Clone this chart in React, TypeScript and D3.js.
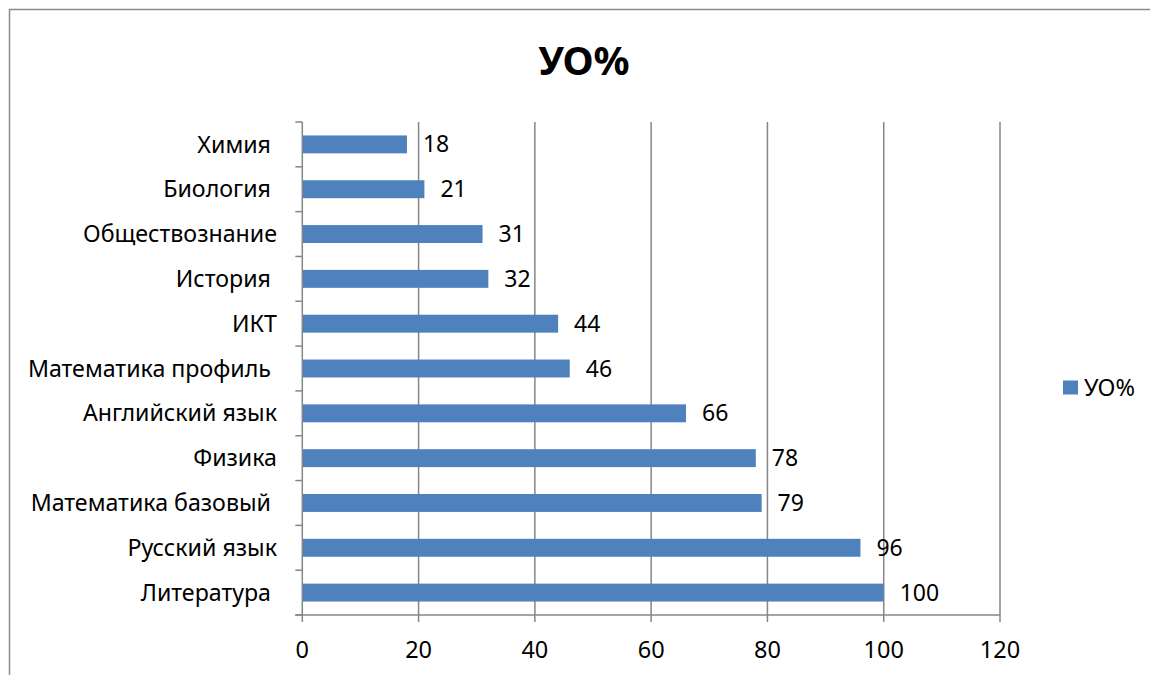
import React from 'react';
import * as d3 from 'd3';

// subjects from top to bottom, as in the picture
const subjects = [
  'Химия ', 'Биология ', 'Обществознание', 'История ', 'ИКТ',
  'Математика профиль ', 'Английский язык', 'Физика', 'Математика базовый ',
  'Русский язык', 'Литература ',
];
const values = [18, 21, 31, 32, 44, 46, 66, 78, 79, 96, 100];
const xTickValues = [0, 20, 40, 60, 80, 100, 120];
const title = 'УО%';
const seriesName = 'УО%';

const width = 1150;
const height = 675;
const plotLeft = 302.3;
const plotRight = 1000;
const plotTop = 122;
const plotBottom = 615;
const barColor = '#4F81BD';
const gridColor = '#868686';
const font = '"Noto Sans", sans-serif';

const App: React.FC = () => {
  const xScale = d3.scaleLinear().domain([0, 120]).range([plotLeft, plotRight]);
  const yScale = d3.scaleBand<string>().domain(subjects)
    .range([plotTop, plotBottom])
    .paddingInner(0.6)
    .paddingOuter(0.3);
  const slotEdges = d3.range(subjects.length + 1).map(i => plotTop + i * (plotBottom - plotTop) / subjects.length);

  return (
    <svg width={width} height={height} style={{position: 'absolute', left: 0, top: 0, background: 'white'}} fontFamily={font}>
      <rect x={9.5} y={9.5} width={width + 20} height={height + 20} fill="white" stroke="#8a8a8a" strokeWidth={1.5}/>
      <text x={584} y={75} textAnchor="middle" fontSize={40} fontWeight="bold" fill="black">{title}</text>

      {/* vertical gridlines */}
      {xTickValues.filter(v => v > 0).map(v => (
        <line key={v} x1={xScale(v)} x2={xScale(v)} y1={plotTop} y2={plotBottom} stroke={gridColor} strokeWidth={1.5}/>
      ))}

      {/* bars */}
      {subjects.map((s, i) => (
        <rect key={s} x={xScale(0)} y={yScale(s)!} width={xScale(values[i]) - xScale(0)} height={yScale.bandwidth()} fill={barColor}/>
      ))}

      {/* value labels */}
      {subjects.map((s, i) => (
        <text key={s} x={xScale(values[i]) + 16} y={yScale(s)! + yScale.bandwidth() / 2} dy="0.35em" fontSize={23} fill="black">{values[i]}</text>
      ))}

      {/* y axis */}
      <line x1={plotLeft} x2={plotLeft} y1={plotTop} y2={plotBottom} stroke={gridColor} strokeWidth={1.5}/>
      {slotEdges.map((y, i) => (
        <line key={i} x1={plotLeft - 7} x2={plotLeft} y1={y} y2={y} stroke={gridColor} strokeWidth={1.5}/>
      ))}
      {subjects.map(s => (
        <text key={s} x={277} y={yScale(s)! + yScale.bandwidth() / 2} dy="0.35em" textAnchor="end" fontSize={23.2} fill="black" style={{whiteSpace: 'pre'}}>{s}</text>
      ))}

      {/* x axis */}
      <line x1={plotLeft - 7} x2={plotRight} y1={plotBottom} y2={plotBottom} stroke={gridColor} strokeWidth={1.5}/>
      {xTickValues.map(v => (
        <g key={v} transform={`translate(${xScale(v)}, ${plotBottom})`}>
          <line y2={7} stroke={gridColor} strokeWidth={1.5}/>
          <text y={35} dy="0.35em" textAnchor="middle" fontSize={23.5} fill="black">{v}</text>
        </g>
      ))}

      {/* legend */}
      <rect x={1063} y={380.5} width={15} height={14} fill={barColor}/>
      <text x={1084} y={387.5} dy="0.35em" fontSize={23.5} fill="black">{seriesName}</text>
    </svg>
  );
};

export default App;
